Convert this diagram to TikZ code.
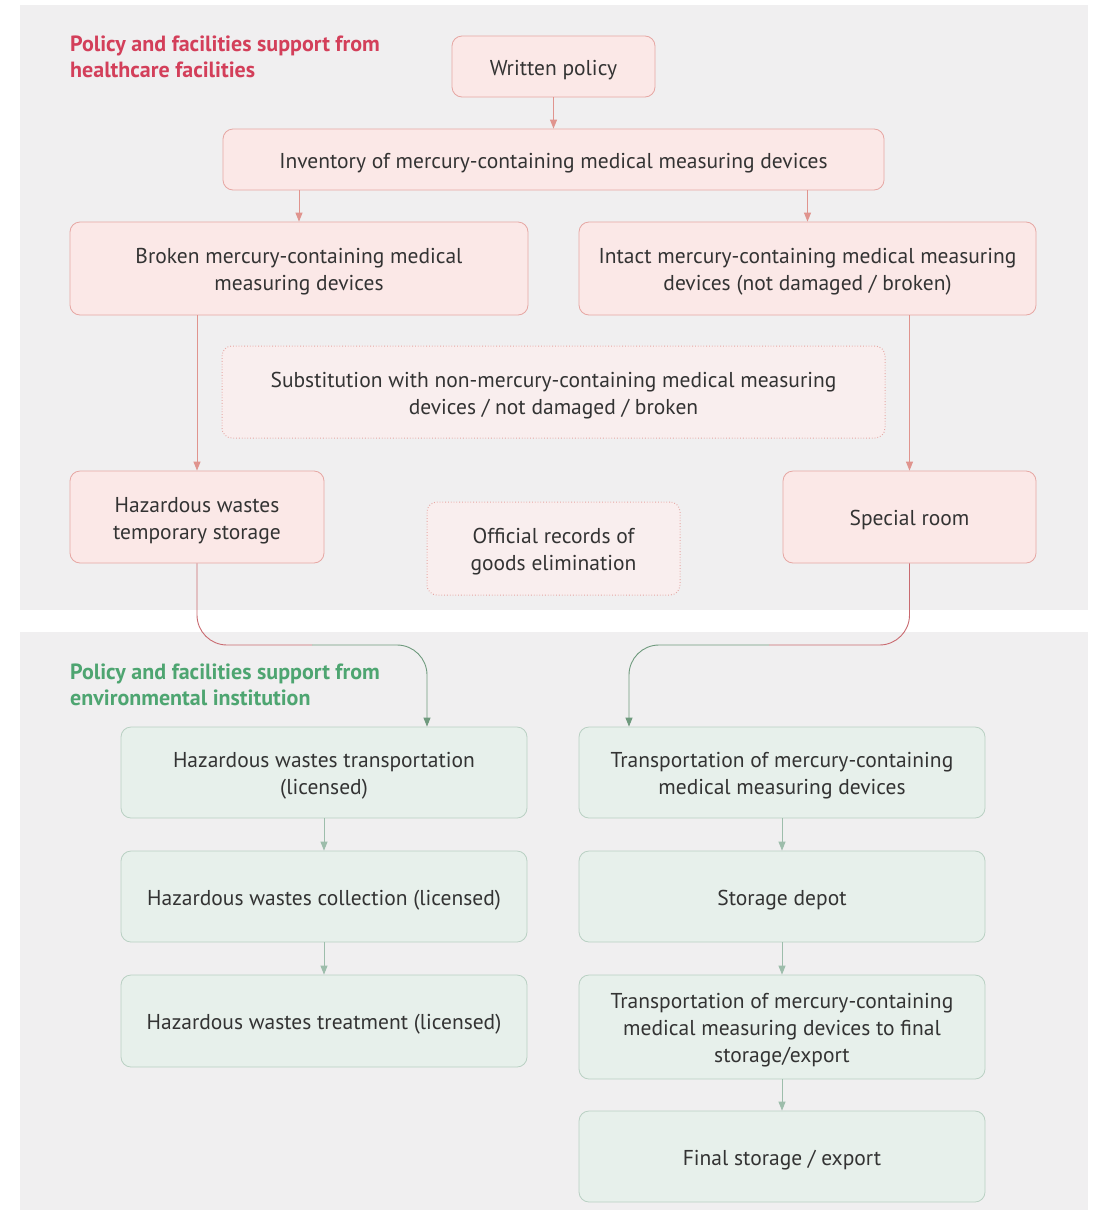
\documentclass[tikz,border=0pt]{standalone}
\usepackage{fontspec}
\setmainfont{PT Sans}
\usetikzlibrary{arrows.meta}

\definecolor{panel}{HTML}{F0EFF0}
\definecolor{pinkfill}{HTML}{FBE8E7}
\definecolor{pinkline}{HTML}{E6A7A3}
\definecolor{pinkdot}{HTML}{F9EEEE}
\definecolor{greenfill}{HTML}{E7F0EB}
\definecolor{greenline}{HTML}{B9D0C3}
\definecolor{redarrow}{HTML}{E0948E}
\definecolor{redlink}{HTML}{C96A70}
\definecolor{greenarrow}{HTML}{9DBDAB}
\definecolor{greenlink}{HTML}{6F9A7E}
\definecolor{txt}{HTML}{333333}
\definecolor{redtitle}{HTML}{D33F5A}
\definecolor{greentitle}{HTML}{4EA571}

% centred lines of box text; extra room above sets them a little below the middle
\newcommand\boxlines[1]{\raisebox{0pt}[\dimexpr\height+7pt\relax][\depth]{\begin{tabular}{@{}c@{}}#1\end{tabular}}}

\tikzset{
  box/.style={rounded corners=10pt, inner sep=0pt, text=txt,
    font=\fontsize{21.5}{27}\selectfont, line width=0.8pt},
  redbox/.style={box, fill=pinkfill, draw=pinkline},
  greenbox/.style={box, fill=greenfill, draw=greenline},
  dotbox/.style={box, fill=pinkdot, draw=pinkline, dotted, line width=1pt},
  title/.style={anchor=north west, align=left, inner sep=0pt,
    font=\fontsize{22}{26}\selectfont\bfseries},
  tip/.style={-{Triangle[width=7pt,length=9pt]}},
  redarr/.style={tip, draw=redarrow, line width=0.9pt},
  greenarr/.style={tip, draw=greenarrow, line width=0.9pt},
  redlk/.style={draw=redlink, line width=0.9pt, rounded corners=30pt},
  greenlk/.style={tip, draw=greenlink, line width=0.9pt, rounded corners=30pt},
}

\begin{document}
\begin{tikzpicture}[x=1pt, y=-1pt]
  \useasboundingbox (0,0) rectangle (1094,1210);
  \fill[white] (0,0) rectangle (1094,1210);

  % two panels
  \fill[panel] (20,5) rectangle (1088,610);
  \fill[panel] (20,632) rectangle (1088,1210);

  % panel titles
  \node[title, text=redtitle] (t1) at (70,36)
    {Policy and facilities support from\\healthcare facilities};
  \node[title, text=greentitle] (t2) at (70,664)
    {Policy and facilities support from\\environmental institution};

  % healthcare facility nodes
  \node[redbox, minimum width=203pt, minimum height=61pt] (written) at (553.5,66.5)
    {\boxlines{Written policy}};
  \node[redbox, minimum width=661pt, minimum height=61pt] (inv) at (553.5,159.5)
    {\boxlines{Inventory of mercury-containing medical measuring devices}};
  \node[redbox, minimum width=458pt, minimum height=93pt] (broken) at (299,268.5)
    {\boxlines{Broken mercury-containing medical\\measuring devices}};
  \node[redbox, minimum width=457pt, minimum height=93pt] (intact) at (807.5,268.5)
    {\boxlines{Intact mercury-containing medical measuring\\devices (not damaged / broken)}};
  \node[dotbox, minimum width=663pt, minimum height=92pt] (subst) at (553.5,392)
    {\boxlines{Substitution with non-mercury-containing medical measuring\\devices / not damaged / broken}};
  \node[redbox, minimum width=254pt, minimum height=92pt] (hts) at (197,517)
    {\boxlines{Hazardous wastes\\temporary storage}};
  \node[dotbox, minimum width=253pt, minimum height=93pt] (records) at (553.5,548.5)
    {\boxlines{Official records of\\goods elimination}};
  \node[redbox, minimum width=253pt, minimum height=92pt] (special) at (909.5,517)
    {\boxlines{Special room}};

  % environmental institution nodes
  \node[greenbox, minimum width=406pt, minimum height=91pt] (htr) at (324,772.5)
    {\boxlines{Hazardous wastes transportation\\(licensed)}};
  \node[greenbox, minimum width=406pt, minimum height=91pt] (hcol) at (324,896.5)
    {\boxlines{Hazardous wastes collection (licensed)}};
  \node[greenbox, minimum width=406pt, minimum height=92pt] (htreat) at (324,1021)
    {\boxlines{Hazardous wastes treatment (licensed)}};
  \node[greenbox, minimum width=406pt, minimum height=91pt] (tmd) at (782,772.5)
    {\boxlines{Transportation of mercury-containing\\medical measuring devices}};
  \node[greenbox, minimum width=406pt, minimum height=91pt] (depot) at (782,896.5)
    {\boxlines{Storage depot}};
  \node[greenbox, minimum width=406pt, minimum height=104pt] (tfinal) at (782,1027)
    {\boxlines{Transportation of mercury-containing\\medical measuring devices to final\\storage/export}};
  \node[greenbox, minimum width=406pt, minimum height=91pt] (final) at (782,1156.5)
    {\boxlines{Final storage / export}};

  % arrows inside the healthcare panel
  \draw[redarr] (written.south) -- (inv.north);
  \draw[redarr] (inv.south -| broken) -- (broken.north);
  \draw[redarr] (inv.south -| intact) -- (intact.north);
  \draw[redarr] (broken.south -| hts) -- (hts.north);
  \draw[redarr] (intact.south -| special) -- (special.north);

  % links between the panels
  \draw[redlk] (hts.south) -- (197,645) -- (312,645);
  \draw[greenlk] (312,645) -- (427,645) -- ([xshift=103pt]htr.north);
  \draw[redlk] (special.south) -- (909.5,645) -- (769,645);
  \draw[greenlk] (769,645) -- (629,645) -- ([xshift=-153pt]tmd.north);

  % arrows inside the environmental panel
  \draw[greenarr] (htr.south) -- (hcol.north);
  \draw[greenarr] (hcol.south) -- (htreat.north);
  \draw[greenarr] (tmd.south) -- (depot.north);
  \draw[greenarr] (depot.south) -- (tfinal.north);
  \draw[greenarr] (tfinal.south) -- (final.north);
\end{tikzpicture}
\end{document}
